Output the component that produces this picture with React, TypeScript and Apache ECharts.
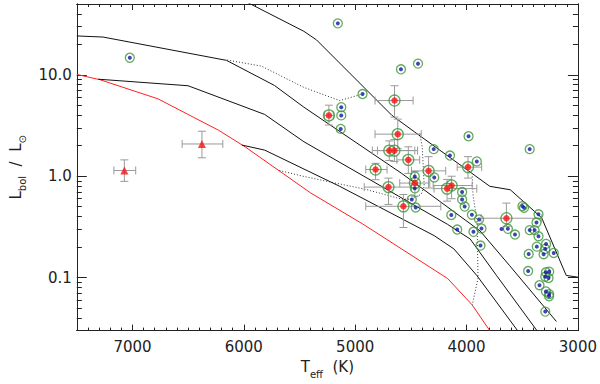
import React, { useEffect, useRef } from "react";
import * as echarts from "echarts";

// ---------- data (Teff [K], Lbol / Lsun) ----------
const isochroneA: number[][] = [
  [6000, 54.0], [5461, 26.9], [5347, 22.1], [4670, 3.98], [4468, 2.74],
  [3791, 0.795], [3607, 0.735], [3325, 0.388], [3105, 0.105], [3000, 0.101],
];
const isochroneB: number[][] = [
  [7500, 24.2], [7264, 23.6], [6156, 13.9], [5725, 7.86], [5461, 4.8],
  [4582, 1.065], [3879, 0.289], [3615, 0.132], [3193, 0.0369],
];
const isochroneC: number[][] = [
  [7308, 9.06], [6501, 7.81], [5813, 4.07], [5461, 2.19], [4172, 0.336],
  [3967, 0.24], [3732, 0.1053], [3367, 0.0299],
];
const isochroneD: number[][] = [
  [6018, 2.03], [5813, 1.81], [5139, 0.795], [4290, 0.259], [4114, 0.192],
  [3908, 0.105], [3542, 0.03],
];
const zams: number[][] = [
  [7500, 10.1], [7290, 8.94], [6771, 5.8], [6455, 3.83], [6226, 2.84],
  [5989, 1.95], [5400, 0.684], [4934, 0.339], [4169, 0.0977], [3949, 0.0537],
  [3791, 0.0299],
];
const track1: number[][] = [
  [6150, 14.0], [5842, 12.2], [5461, 7.52], [5139, 5.57], [4934, 6.47],
];
const track2: number[][] = [
  [5681, 1.14], [5461, 0.995], [4908, 0.743], [4582, 0.594], [4494, 0.594],
  [4407, 0.664], [4380, 0.795], [4398, 1.95], [4424, 2.74],
];
const track3: number[][] = [
  [3949, 0.995], [3941, 0.635], [3905, 0.362], [3897, 0.0985], [3949, 0.0537],
];

const blueStars: number[][] = [
  [7024, 14.75], [5156, 32.2], [4589, 11.34], [4436, 12.9], [4934, 6.47],
  [5125, 4.8], [5125, 3.98], [5130, 2.93], [3982, 2.48], [4295, 1.85],
  [4149, 1.6], [3908, 1.4], [3433, 1.85], [4465, 0.995], [4290, 0.973],
  [4465, 0.76], [4040, 0.698], [4040, 0.59], [4492, 0.59], [4457, 0.491],
  [4017, 0.502], [4137, 0.415], [3952, 0.417], [3888, 0.375], [4084, 0.298],
  [3938, 0.283], [3866, 0.305], [3875, 0.207], [3629, 0.303], [3565, 0.266],
  [3498, 0.507], [3484, 0.489], [3354, 0.421], [3372, 0.349], [3433, 0.294],
  [3389, 0.294], [3354, 0.256], [3369, 0.202], [3286, 0.215], [3293, 0.192],
  [3308, 0.17], [3217, 0.175], [3442, 0.171], [3447, 0.116], [3287, 0.113],
  [3258, 0.1145], [3293, 0.102], [3264, 0.099], [3345, 0.0841], [3287, 0.073],
  [3258, 0.0687], [3259, 0.0654], [3293, 0.0462],
];
const plainDots: number[][] = [[3686, 0.301]];

// T, L, Tlow, Thigh, Llow, Lhigh
const redStars: number[][] = [
  [4647, 5.58, 4480, 4822, 3.83, 7.81],
  [5236, 3.98, 5196, 5276, 3.2, 5.02],
  [4618, 2.6, 4407, 4822, 1.87, 3.66],
  [4694, 1.79, 4465, 4846, 1.43, 2.23],
  [4648, 1.79, 4440, 4800, 1.4, 2.3],
  [4523, 1.45, 4421, 4626, 1.065, 1.95],
  [4817, 1.165, 4714, 4905, 0.924, 1.34],
  [4341, 1.13, 4187, 4494, 0.765, 1.56],
  [3987, 1.23, 3864, 4084, 0.958, 1.56],
  [4701, 0.781, 4494, 4919, 0.527, 0.958],
  [4464, 0.856, 4330, 4600, 0.635, 1.11],
  [4175, 0.755, 3908, 4292, 0.568, 0.93],
  [4134, 0.81, 3950, 4300, 0.6, 1.0],
  [4567, 0.505, 4231, 4905, 0.312, 0.66],
  [3642, 0.385, 3325, 3870, 0.32, 0.543],
];
const redTriangles: number[][] = [
  [7073, 1.14, 6971, 7167, 0.89, 1.45],
  [6376, 2.08, 6189, 6554, 1.52, 2.78],
];

const xRange = [3000, 7500];
const yRange = [0.03, 50];
const xMajorStep = 1000;
const xMinorStep = 100;
const yMajorValues = [0.1, 1, 10];
const yMajorLabels = ["0.1", "1.0", "10.0"];
const yMinorValues = [
  0.03, 0.04, 0.05, 0.06, 0.07, 0.08, 0.09,
  0.2, 0.3, 0.4, 0.5, 0.6, 0.7, 0.8, 0.9,
  2, 3, 4, 5, 6, 7, 8, 9,
  20, 30, 40,
];

const FONT = "'DejaVu Sans', sans-serif";
const AXIS_COLOR = "#222";
const lg = (v: number) => Math.log10(v);

function xAxisDef(position: string, interval: number, len: number, withLabels: boolean): any {
  return {
    type: "value",
    position,
    min: xRange[0],
    max: xRange[1],
    inverse: true,
    interval,
    axisLine: { show: true, onZero: false, lineStyle: { color: AXIS_COLOR, width: 1 } },
    axisTick: { show: true, inside: true, length: len, lineStyle: { color: AXIS_COLOR, width: 1 } },
    axisLabel: withLabels
      ? {
          show: true,
          margin: 9,
          fontFamily: FONT,
          fontSize: 15,
          color: "#222",
          formatter: (v: number) => (v % xMajorStep === 0 ? String(v) : ""),
        }
      : { show: false },
    splitLine: { show: false },
    name: withLabels ? "{m|T}{s|eff}{m|  (K)}" : "",
    nameLocation: "middle",
    nameGap: 24,
    nameTextStyle: {
      fontFamily: FONT,
      color: "#222",
      rich: {
        m: { fontFamily: FONT, fontSize: 15, lineHeight: 24, color: "#222" },
        s: { fontFamily: FONT, fontSize: 10, lineHeight: 10, verticalAlign: "bottom", color: "#222" },
      },
    },
  };
}

function yAxisDef(position: string, values: number[], len: number, withLabels: boolean): any {
  return {
    type: "value",
    position,
    min: lg(yRange[0]),
    max: lg(yRange[1]),
    axisLine: { show: true, onZero: false, lineStyle: { color: AXIS_COLOR, width: 1 } },
    axisTick: {
      show: true,
      inside: true,
      length: len,
      customValues: values.map(lg),
      lineStyle: { color: AXIS_COLOR, width: 1 },
    },
    axisLabel: withLabels
      ? {
          show: true,
          margin: 5,
          fontFamily: FONT,
          fontSize: 15,
          color: "#222",
          customValues: yMajorValues.map(lg),
          formatter: (v: number) => {
            const i = yMajorValues.findIndex((m) => Math.abs(lg(m) - v) < 1e-6);
            return i >= 0 ? yMajorLabels[i] : "";
          },
        }
      : { show: false },
    splitLine: { show: false },
    name: withLabels ? "{m|L}{s|bol}{m|  /  L}{s|⊙}" : "",
    nameLocation: "middle",
    nameGap: 40,
    nameTextStyle: {
      fontFamily: FONT,
      color: "#222",
      rich: {
        m: { fontFamily: FONT, fontSize: 15, lineHeight: 24, color: "#222" },
        s: { fontFamily: FONT, fontSize: 10, lineHeight: 10, verticalAlign: "bottom", color: "#222" },
      },
    },
  };
}

const toXY = (arr: number[][]) => arr.map((p) => [p[0], lg(p[1])]);

function lineSeries(data: number[][], color: string, dotted = false): any {
  return {
    type: "line",
    data: toXY(data),
    showSymbol: false,
    symbol: "none",
    silent: true,
    clip: true,
    z: 2,
    lineStyle: { color, width: 1, type: dotted ? [1, 2] : "solid" },
  };
}

function errorSeries(rows: number[][]): any {
  return {
    type: "custom",
    silent: true,
    clip: true,
    z: 3,
    data: rows.map((r) => [r[0], lg(r[1]), r[2], r[3], lg(r[4]), lg(r[5])]),
    encode: { x: [0, 2, 3], y: [1, 4, 5] },
    renderItem: (_params: any, api: any) => {
      const x = api.value(0);
      const y = api.value(1);
      const c = api.coord([x, y]);
      const xl = api.coord([api.value(2), y]);
      const xh = api.coord([api.value(3), y]);
      const yl = api.coord([x, api.value(4)]);
      const yh = api.coord([x, api.value(5)]);
      const cap = 4;
      const style = { stroke: "#9a9a9a", lineWidth: 1, fill: null };
      const ln = (x1: number, y1: number, x2: number, y2: number) => ({
        type: "line",
        shape: { x1, y1, x2, y2 },
        style,
      });
      return {
        type: "group",
        children: [
          ln(xl[0], c[1], xh[0], c[1]),
          ln(xl[0], c[1] - cap, xl[0], c[1] + cap),
          ln(xh[0], c[1] - cap, xh[0], c[1] + cap),
          ln(c[0], yl[1], c[0], yh[1]),
          ln(c[0] - cap, yl[1], c[0] + cap, yl[1]),
          ln(c[0] - cap, yh[1], c[0] + cap, yh[1]),
        ],
      };
    },
  };
}

function scatterSeries(data: number[][], symbol: string, size: number, itemStyle: any, z: number): any {
  return {
    type: "scatter",
    data: toXY(data),
    symbol,
    symbolSize: size,
    silent: true,
    clip: true,
    z,
    itemStyle,
  };
}

export default function App() {
  const ref = useRef<HTMLDivElement>(null);

  useEffect(() => {
    if (!ref.current) return;
    const chart = echarts.init(ref.current, undefined, { renderer: "svg" });
    const ringStyle = { color: "rgba(255,255,255,0)", borderColor: "#3a963a", borderWidth: 1.3 };
    const option: any = {
      animation: false,
      backgroundColor: "#ffffff",
      grid: { left: 68, right: 20, top: 4, bottom: 48, containLabel: false },
      xAxis: [
        xAxisDef("bottom", xMajorStep, 6, true),
        xAxisDef("bottom", xMinorStep, 3, false),
        xAxisDef("top", xMajorStep, 6, false),
        xAxisDef("top", xMinorStep, 3, false),
      ],
      yAxis: [
        yAxisDef("left", yMajorValues, 10, true),
        yAxisDef("left", yMinorValues, 5, false),
        yAxisDef("right", yMajorValues, 10, false),
        yAxisDef("right", yMinorValues, 5, false),
      ],
      series: [
        lineSeries(zams, "#ff2020"),
        lineSeries(isochroneA, "#111"),
        lineSeries(isochroneB, "#111"),
        lineSeries(isochroneC, "#111"),
        lineSeries(isochroneD, "#111"),
        lineSeries(track1, "#333", true),
        lineSeries(track2, "#333", true),
        lineSeries(track3, "#333", true),
        errorSeries(redStars),
        errorSeries(redTriangles),
        scatterSeries(blueStars, "circle", 9, ringStyle, 5),
        scatterSeries(blueStars.concat(plainDots), "circle", 4, { color: "#1414a0" }, 6),
        scatterSeries(redStars.map((r) => [r[0], r[1]]), "circle", 11, ringStyle, 5),
        scatterSeries(redStars.map((r) => [r[0], r[1]]), "circle", 6.5, { color: "#ff1010" }, 6),
        scatterSeries(redTriangles.map((r) => [r[0], r[1]]), "triangle", 8, { color: "#ff1010" }, 6),
      ],
    };
    chart.setOption(option);
    return () => chart.dispose();
  }, []);

  return (
    <div
      ref={ref}
      style={{ position: "absolute", left: 0, top: 0, width: 600, height: 384, background: "#fff" }}
    />
  );
}
